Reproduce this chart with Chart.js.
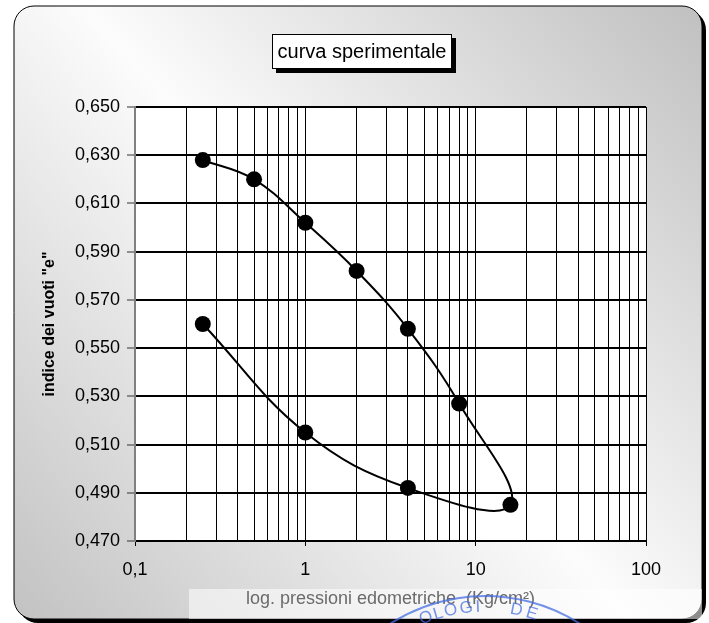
<!DOCTYPE html>
<html>
<head>
<meta charset="utf-8">
<script src="https://cdn.jsdelivr.net/npm/chart.js@4.4.1/dist/chart.umd.min.js"></script>
<style>
  html, body { margin: 0; padding: 0; background: #fff; }
  #wrap { width: 709px; height: 623px; position: relative; }
</style>
</head>
<body>
<div id="wrap"><canvas id="c" width="709" height="623"></canvas></div>
<script>
// Prova edometrica: ramo di carico e ramo di scarico
const loadPressure = [0.25, 0.5, 1, 2, 4, 8, 16];
const loadVoidRatio = [0.628, 0.620, 0.602, 0.582, 0.558, 0.527, 0.485];
const unloadPressure = [16, 4, 1, 0.25];
const unloadVoidRatio = [0.485, 0.492, 0.515, 0.560];

// Griglia logaritmica delle pressioni e tacche dell'indice dei vuoti
const pressureGrid = [0.1, 0.2, 0.3, 0.4, 0.5, 0.6, 0.7, 0.8, 0.9,
                      1, 2, 3, 4, 5, 6, 7, 8, 9,
                      10, 20, 30, 40, 50, 60, 70, 80, 90, 100];
const pressureDecades = [0.1, 1, 10, 100];
const pressureLabels = ['0,1', '1', '10', '100'];
const voidTicks = [0.47, 0.49, 0.51, 0.53, 0.55, 0.57, 0.59, 0.61, 0.63, 0.65];

const chartTitle = 'curva sperimentale';
const xTitle = 'log. pressioni edometriche  (Kg/cm²)';
const yTitle = 'indice dei vuoti "e"';
const stampText = 'OLOGI DE';

// curva continua: carico seguito dallo scarico (il punto a 16 è in comune)
const curve = [];
loadPressure.forEach((p, i) => curve.push({ x: p, y: loadVoidRatio[i] }));
unloadPressure.slice(1).forEach((p, i) => curve.push({ x: p, y: unloadVoidRatio[i + 1] }));

const FONT = "'Liberation Sans', Arial, sans-serif";
Chart.defaults.font.family = FONT;
Chart.defaults.color = '#000';

function roundRect(ctx, x, y, w, h, r) {
  ctx.beginPath();
  ctx.moveTo(x + r, y);
  ctx.lineTo(x + w - r, y);
  ctx.arcTo(x + w, y, x + w, y + r, r);
  ctx.lineTo(x + w, y + h - r);
  ctx.arcTo(x + w, y + h, x + w - r, y + h, r);
  ctx.lineTo(x + r, y + h);
  ctx.arcTo(x, y + h, x, y + h - r, r);
  ctx.lineTo(x, y + r);
  ctx.arcTo(x, y, x + r, y, r);
  ctx.closePath();
}

const framePlugin = {
  id: 'frame',
  beforeDraw(chart) {
    const ctx = chart.ctx;
    const a = chart.chartArea;
    ctx.save();
    ctx.fillStyle = '#fff';
    ctx.fillRect(0, 0, chart.width, chart.height);
    // ombra della cornice
    roundRect(ctx, 18, 10, 688, 613, 20);
    ctx.fillStyle = '#000';
    ctx.fill();
    // cornice con sfumatura diagonale
    const g = ctx.createLinearGradient(702, 6, 14, 619);
    g.addColorStop(0, '#c0c0c0');
    g.addColorStop(0.5, '#fcfcfc');
    g.addColorStop(1, '#c2c2c2');
    roundRect(ctx, 14, 6, 688, 613, 20);
    ctx.fillStyle = g;
    ctx.fill();
    ctx.lineWidth = 1;
    ctx.strokeStyle = '#000';
    ctx.stroke();
    // fascia chiara dietro il titolo dell'asse x
    ctx.fillStyle = 'rgba(255,255,255,0.55)';
    ctx.fillRect(189, 589, 513, 30);
    // area del grafico
    ctx.fillStyle = '#fff';
    ctx.fillRect(a.left, a.top, a.right - a.left, a.bottom - a.top);
    // riquadro del titolo
    ctx.fillStyle = '#000';
    ctx.fillRect(276, 38, 180, 35);
    ctx.fillStyle = '#fff';
    ctx.fillRect(272, 34, 180, 35);
    ctx.strokeStyle = '#000';
    ctx.strokeRect(272.5, 34.5, 179, 34);
    ctx.fillStyle = '#000';
    ctx.font = '20px ' + FONT;
    ctx.textAlign = 'center';
    ctx.textBaseline = 'middle';
    ctx.fillText(chartTitle, 362, 52);
    ctx.restore();
  },
  afterDraw(chart) {
    // timbro circolare in parte visibile in basso
    const ctx = chart.ctx;
    const cx = 485, cy = 772;
    ctx.save();
    ctx.strokeStyle = 'rgba(70,110,225,0.75)';
    ctx.lineWidth = 2;
    ctx.beginPath();
    ctx.arc(cx, cy, 176, Math.PI * 1.2, Math.PI * 1.8);
    ctx.stroke();
    ctx.fillStyle = 'rgba(70,110,225,0.75)';
    ctx.font = '17px ' + FONT;
    ctx.textAlign = 'center';
    ctx.textBaseline = 'middle';
    const angles = [-21, -16.5, -12, -6.5, -2.5, 0, 11, 16.5];
    for (let i = 0; i < stampText.length; i++) {
      const ch = stampText[i];
      if (ch === ' ') continue;
      const t = angles[i] * Math.PI / 180;
      const r = 165;
      ctx.save();
      ctx.translate(cx + r * Math.sin(t), cy - r * Math.cos(t));
      ctx.rotate(t);
      ctx.fillText(ch, 0, 0);
      ctx.restore();
    }
    ctx.restore();
  }
};

new Chart(document.getElementById('c'), {
  type: 'scatter',
  data: {
    datasets: [{
      data: curve,
      showLine: true,
      tension: 0.4,
      borderColor: '#000',
      borderWidth: 2,
      pointRadius: 8,
      pointHoverRadius: 8,
      pointBackgroundColor: '#000',
      pointBorderWidth: 0
    }]
  },
  options: {
    responsive: false,
    animation: false,
    events: [],
    layout: { padding: { left: 0, right: 63, top: 107, bottom: 0 } },
    plugins: {
      legend: { display: false },
      tooltip: { enabled: false }
    },
    scales: {
      x: {
        type: 'logarithmic',
        min: 0.1,
        max: 100,
        afterFit: s => { s.height = 82; },
        afterBuildTicks: s => { s.ticks = pressureGrid.map(v => ({ value: v })); },
        ticks: {
          autoSkip: false,
          maxRotation: 0,
          padding: 13,
          font: { size: 18 },
          color: '#000',
          callback: v => {
            const k = pressureDecades.indexOf(v);
            return k >= 0 ? pressureLabels[k] : '';
          }
        },
        grid: {
          color: '#000',
          lineWidth: 1,
          tickLength: 5,
          tickColor: c => (c.tick && pressureDecades.includes(c.tick.value)) ? '#000' : 'rgba(0,0,0,0)'
        },
        border: { color: '#000', width: 1 },
        title: {
          display: true,
          text: xTitle,
          color: '#6b6b6b',
          font: { size: 18 },
          padding: { top: 0, bottom: 13.5 }
        }
      },
      y: {
        type: 'linear',
        min: 0.47,
        max: 0.65,
        afterFit: s => { s.width = 135; },
        afterBuildTicks: s => { s.ticks = voidTicks.map(v => ({ value: v })); },
        ticks: {
          padding: 7,
          font: { size: 18 },
          color: '#000',
          callback: v => v.toFixed(3).replace('.', ',')
        },
        grid: {
          color: '#000',
          lineWidth: 2,
          tickLength: 8,
          tickWidth: 1,
          tickColor: '#333'
        },
        border: { color: '#808080', width: 2 },
        title: {
          display: true,
          text: yTitle,
          color: '#000',
          font: { size: 16, weight: 'bold' },
          padding: { top: 40, bottom: 0 }
        }
      }
    }
  },
  plugins: [framePlugin]
});
</script>
</body>
</html>
